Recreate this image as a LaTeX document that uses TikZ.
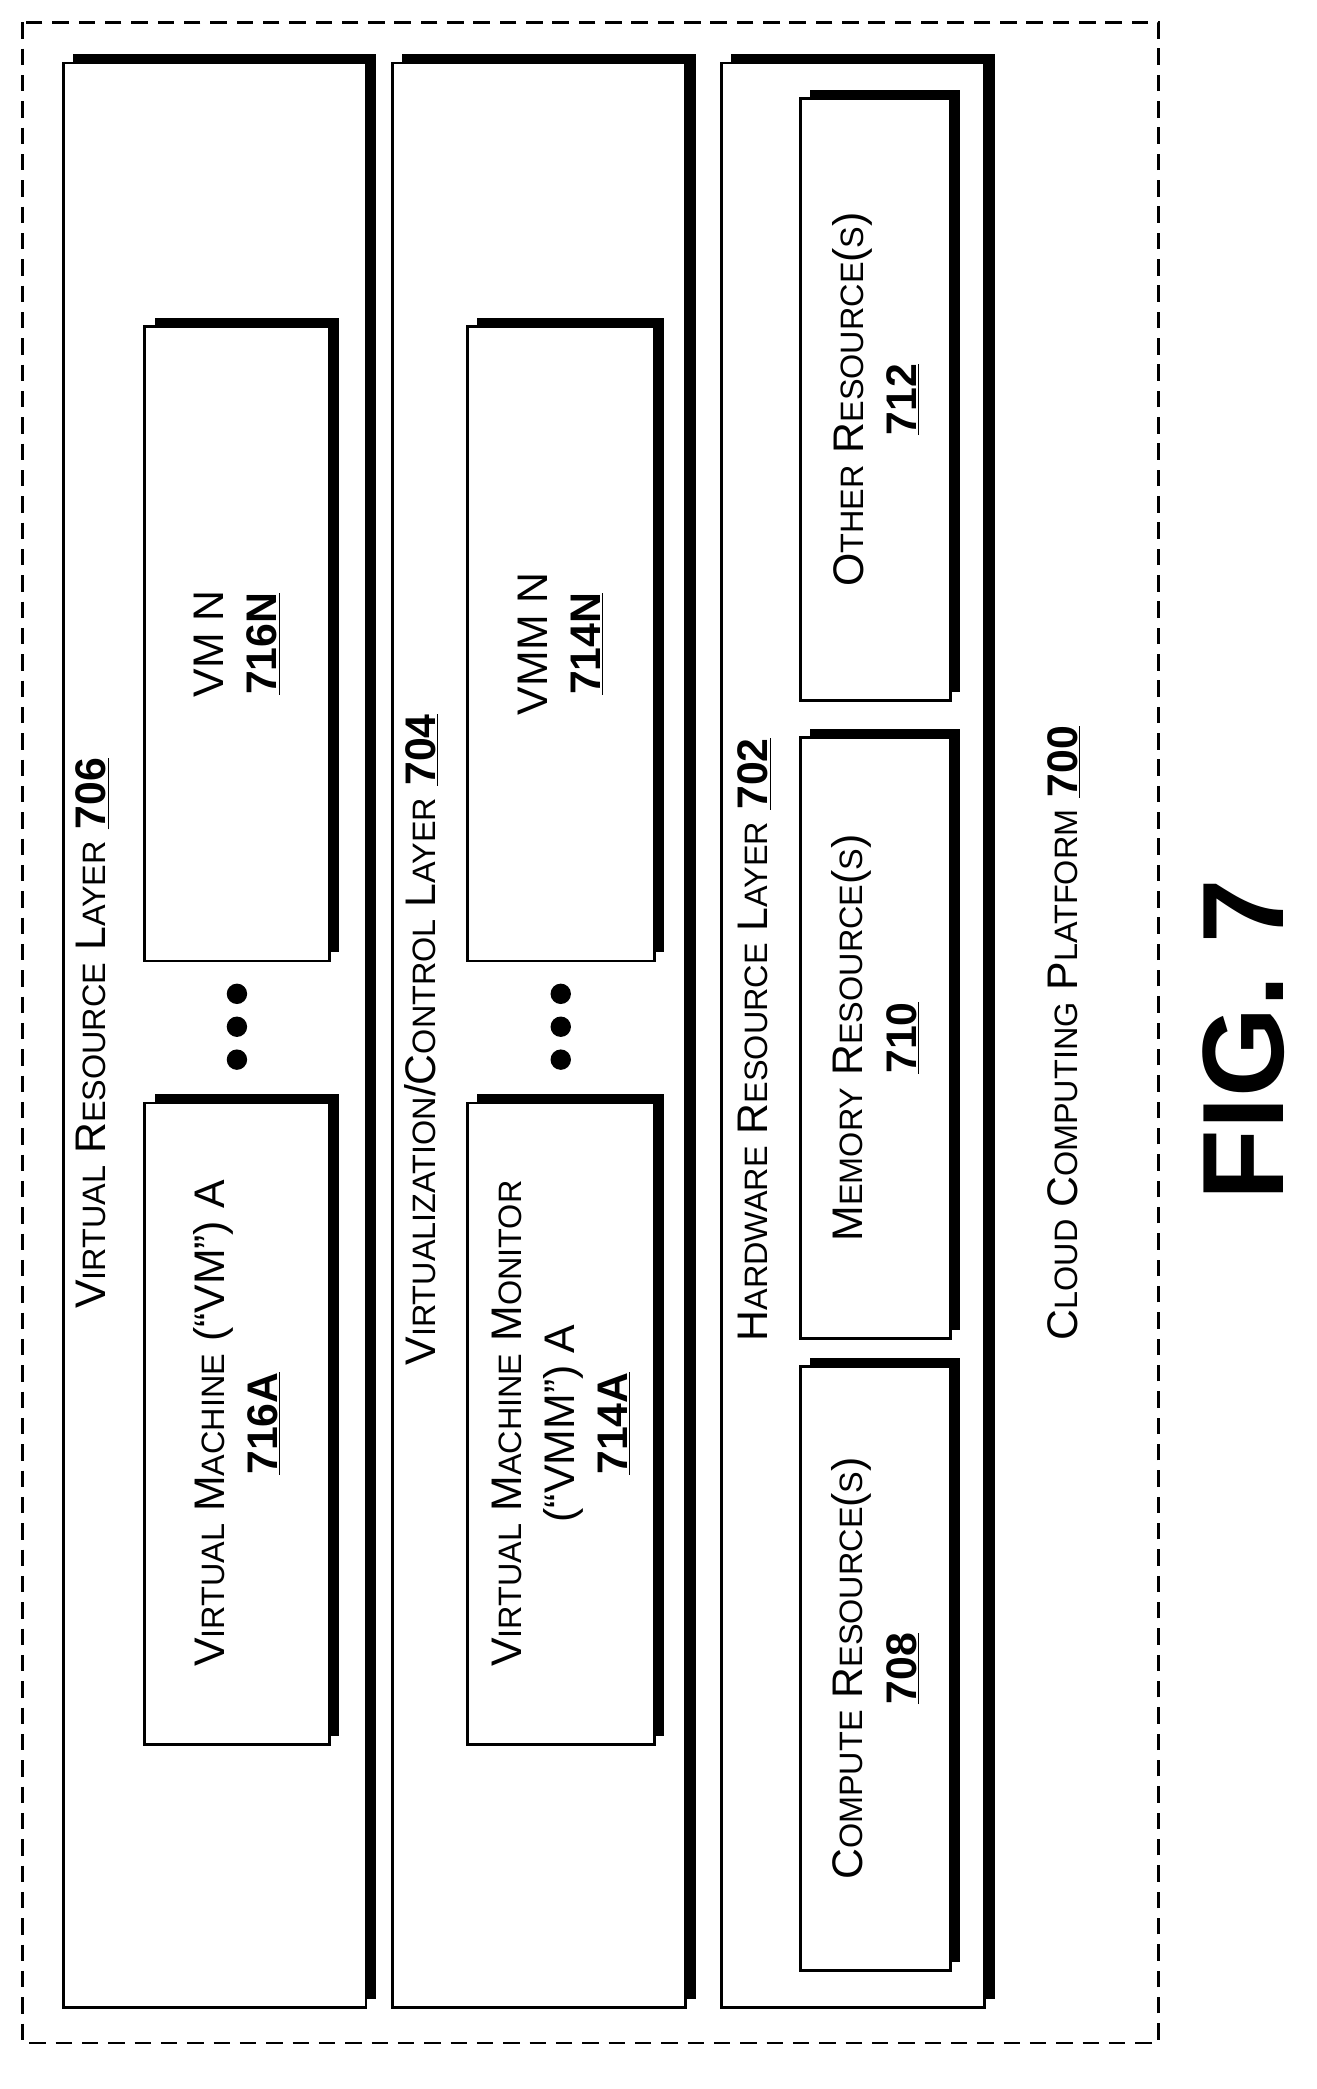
\documentclass[tikz,border=0pt]{standalone}
\usepackage{fontspec}
\setmainfont{Liberation Sans}
\usetikzlibrary{shadows}
\newcommand\sm{\fontsize{28}{34}\selectfont}
\newcommand\nm[1]{\textbf{\underline{#1}}}
\begin{document}
\begin{tikzpicture}[x=0.04cm,y=-0.04cm,
  box/.style={draw,line width=2.5pt,fill=white,inner sep=0pt,
    drop shadow={shadow xshift=0.3cm,shadow yshift=0.26cm,fill=black,opacity=1}},
  lbl/.style={rotate=90,align=center,font=\fontsize{37}{46}\selectfont},
  dot/.style={circle,fill=black,inner sep=0pt,minimum size=0.62cm}]
\useasboundingbox (0,0) rectangle (1000,1587);
\draw[dashed,line width=2.5pt,dash pattern=on 0.5cm off 0.3cm] (17,17) rectangle (880,1552);
% layers
\node[box,minimum width=9.2cm,minimum height=59.08cm] (L706) at (163,786.5) {};
\node[box,minimum width=8.92cm,minimum height=59.08cm] (L704) at (409.5,786.5) {};
\node[box,minimum width=8cm,minimum height=59.08cm] (L702) at (648,786.5) {};
% inner boxes
\node[box,minimum width=5.6cm,minimum height=19.48cm] (VMA) at (180,1081.5) {};
\node[box,minimum width=5.6cm,minimum height=19.28cm] (VMN) at (180,489) {};
\node[box,minimum width=5.68cm,minimum height=19.48cm] (VMMA) at (426,1081.5) {};
\node[box,minimum width=5.68cm,minimum height=19.28cm] (VMMN) at (426,489) {};
\node[box,minimum width=4.56cm,minimum height=18.36cm] (C708) at (665,1267.5) {};
\node[box,minimum width=4.56cm,minimum height=18.28cm] (M710) at (665,788.5) {};
\node[box,minimum width=4.56cm,minimum height=18.28cm] (O712) at (665,303.5) {};
% dots
\foreach \yy/\n in {755/a,780/b,805/c}{
  \node[dot] (d1\n) at (180,\yy) {};
  \node[dot] (d2\n) at (426,\yy) {};}
% labels
\node[lbl] (t706) at (70,785) {V{\sm IRTUAL} R{\sm ESOURCE} L{\sm AYER} \nm{706}};
\node[lbl] (t704) at (320,790) {V{\sm IRTUALIZATION}/C{\sm ONTROL} L{\sm AYER} \nm{704}};
\node[lbl] (t702) at (573,790) {H{\sm ARDWARE} R{\sm ESOURCE} L{\sm AYER} \nm{702}};
\node[lbl] (t716A) at (VMA) {V{\sm IRTUAL} M{\sm ACHINE} (``VM'') A\\ \nm{716A}};
\node[lbl] (t716N) at (VMN) {VM N\\ \nm{716N}};
\node[lbl] (t714A) at (VMMA) {V{\sm IRTUAL} M{\sm ACHINE} M{\sm ONITOR}\\(``VMM'') A\\ \nm{714A}};
\node[lbl] (t714N) at (VMMN) {VMM N\\ \nm{714N}};
\node[lbl] (t708) at (C708) {C{\sm OMPUTE} R{\sm ESOURCE}({\sm S})\\ \nm{708}};
\node[lbl] (t710) at (M710) {M{\sm EMORY} R{\sm ESOURCE}({\sm S})\\ \nm{710}};
\node[lbl] (t712) at (O712) {O{\sm THER} R{\sm ESOURCE}({\sm S})\\ \nm{712}};
\node[lbl] (t700) at (808,785) {C{\sm LOUD} C{\sm OMPUTING} P{\sm LATFORM} \nm{700}};
\node[rotate=90,font=\bfseries\fontsize{100}{110}\selectfont] (fig) at (945,790) {FIG. 7};
\end{tikzpicture}
\end{document}
